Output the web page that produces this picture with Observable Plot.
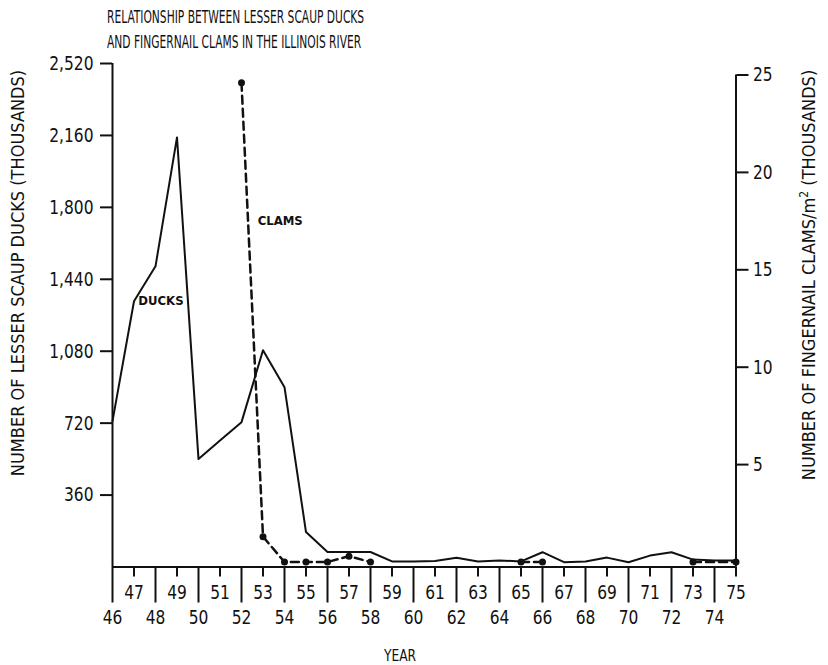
<!DOCTYPE html>
<html><head><meta charset="utf-8">
<script src="https://cdn.jsdelivr.net/npm/d3@7"></script>
<script src="https://cdn.jsdelivr.net/npm/@observablehq/plot@0.6"></script>
<style>
body{margin:0;background:#fff;}
#wrap{position:relative;width:828px;height:665px;overflow:hidden;font-family:"DejaVu Sans Condensed","Liberation Sans Narrow","DejaVu Sans",sans-serif;font-stretch:condensed;color:#111;}
#wrap svg{position:absolute;left:0;top:0;}
.t{position:absolute;white-space:nowrap;line-height:1;}
.title{left:107px;font-size:18px;transform:scaleX(0.66);transform-origin:0 50%;}
.rot{transform:translate(-50%,-50%) rotate(-90deg);font-size:18px;}
</style></head>
<body><div id="wrap">
<div class="t title" style="top:8px">RELATIONSHIP BETWEEN LESSER SCAUP DUCKS</div>
<div class="t title" style="top:33px">AND FINGERNAIL CLAMS IN THE ILLINOIS RIVER</div>
<div class="t rot" style="left:18px;top:273px">NUMBER OF LESSER SCAUP DUCKS (THOUSANDS)</div>
<div class="t rot" style="left:808px;top:275px">NUMBER OF FINGERNAIL CLAMS/m<sup style="font-size:12px">2</sup> (THOUSANDS)</div>
<div class="t" style="left:400px;top:656px;transform:translate(-50%,-50%) scaleX(0.85);font-size:16px">YEAR</div>
</div>
<script>
// Data
const duckYears = [46,47,48,49,50,51,52,53,54,55,56,57,58,59,60,61,62,63,64,65,66,67,68,69,70,71,72,73,74,75];
const duckValues = [730,1330,1505,2150,540,633,725,1085,900,175,75,75,75,28,28,30,46,28,33,28,74,24,28,47,24,57,74,37,33,33];
const clamYears = [52,53,54,55,56,57,58,65,66,73,75];
const clamValues = [24.6,1.3,0,0,0,0.3,0,0,0,0,0];
const clamSegment = [1,1,1,1,1,1,1,2,2,3,3];
const duckTicks = [360,720,1080,1440,1800,2160,2520];
const clamTicks = [5,10,15,20,25];
const oddYears = [47,49,51,53,55,57,59,61,63,65,67,69,71,73,75];
const evenYears = [46,48,50,52,54,56,58,60,62,64,66,68,70,72,74];
const labelText = ["DUCKS","CLAMS"];
const labelYear = [47.2,52.75];
const labelDucks = [1332,null];
const labelClams = [null,17.5];

// right axis (clams, thousands/m2) mapped onto the left (ducks) scale
const clamOffset = 25, clamFactor = 97.5;
const toDuck = c => clamOffset + clamFactor * c;

const ducks = duckYears.map((y,i)=>({year:y, v:duckValues[i]}));
const clams = clamYears.map((y,i)=>({year:y, v:toDuck(clamValues[i]), seg:clamSegment[i]}));
const labels = labelText.map((t,i)=>({t, year:labelYear[i], v: labelDucks[i] != null ? labelDucks[i] : toDuck(labelClams[i])}));

const font = '"DejaVu Sans Condensed","Liberation Sans Narrow","DejaVu Sans",sans-serif';
const chart = Plot.plot({
  width: 828, height: 665,
  marginLeft: 112, marginRight: 92.5, marginTop: 63, marginBottom: 98.5,
  style: {fontFamily: font, fontSize: "20px", color: "#111", background: "transparent"},
  x: {domain: [46, 75], axis: null},
  y: {domain: [0, 2520], axis: null},
  marks: [
    Plot.ruleY([0], {x1: 46, x2: 75, strokeWidth: 2}),
    Plot.ruleX([46], {y1: 0, y2: 2520, strokeWidth: 2}),
    Plot.ruleX([75], {y1: 0, y2: toDuck(25), strokeWidth: 2}),
    Plot.axisY(duckTicks, {anchor: "left", tickSize: 12, tickPadding: 7, strokeWidth: 2, tickFormat: d3.format(","), label: null, fontSize: 20}),
    Plot.axisY(clamTicks.map(toDuck), {anchor: "right", tickSize: 12, tickPadding: 5, strokeWidth: 2, tickFormat: d => String(Math.round((d - clamOffset) / clamFactor)), label: null, fontSize: 20}),
    Plot.axisX(oddYears, {anchor: "bottom", tickSize: 10, tickPadding: 8, strokeWidth: 2, tickFormat: d => String(d), label: null, fontSize: 20}),
    Plot.axisX(evenYears, {anchor: "bottom", tickSize: 36, tickPadding: 7, strokeWidth: 2, tickFormat: d => String(d), label: null, fontSize: 20}),
    Plot.line(ducks, {x: "year", y: "v", stroke: "#111", strokeWidth: 2}),
    Plot.line(clams, {x: "year", y: "v", z: "seg", stroke: "#111", strokeWidth: 2.5, strokeDasharray: "8,5"}),
    Plot.dot(clams, {x: "year", y: "v", r: 3.5, fill: "#111"}),
    Plot.text(labels, {x: "year", y: "v", text: "t", textAnchor: "start", fontSize: 13, fontWeight: "bold", fill: "#111"})
  ]
});
// condense the tick label glyphs horizontally (the original uses a condensed face)
d3.select(chart).selectAll('g[aria-label$="tick label"] text').each(function() {
  const el = this;
  const tr = el.getAttribute("transform");
  if (tr) {
    el.setAttribute("transform", tr + " scale(0.86,1)");
  } else {
    const x = +(el.getAttribute("x") || 0);
    el.setAttribute("transform", `translate(${x},0) scale(0.86,1) translate(${-x},0)`);
  }
});
document.getElementById("wrap").prepend(chart);
</script>
</body></html>
